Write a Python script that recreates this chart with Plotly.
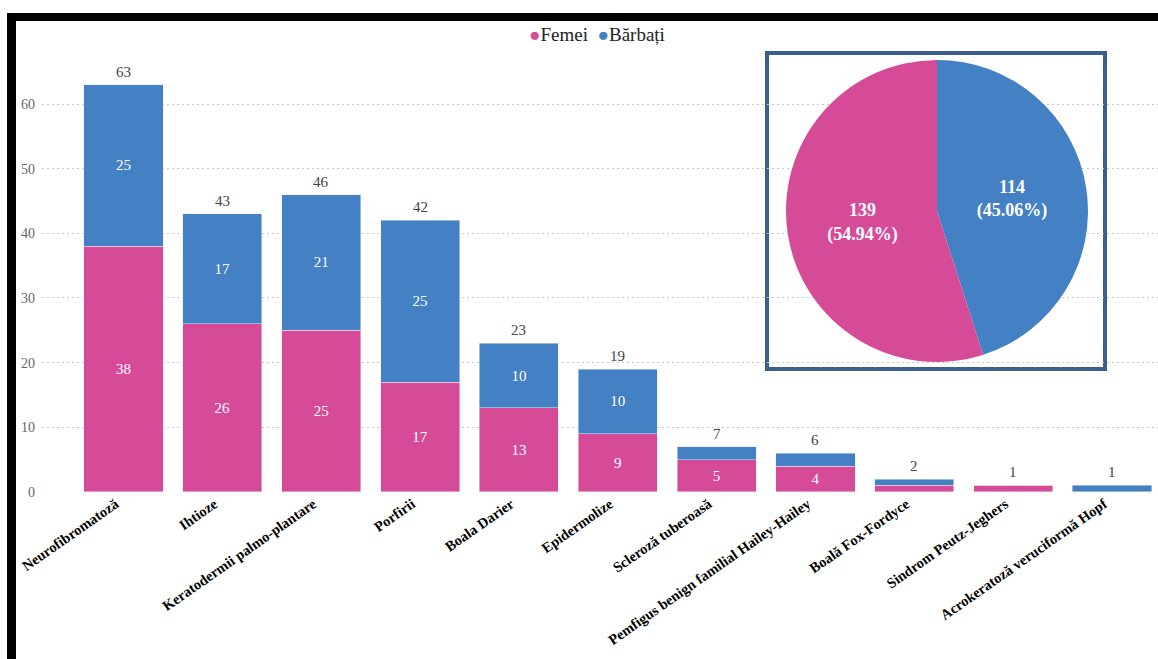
import plotly.graph_objects as go

# ---- data ----
categories = [
    "Neurofibromatoză", "Ihtioze", "Keratodermii palmo-plantare", "Porfirii",
    "Boala Darier", "Epidermolize", "Scleroză tuberoasă",
    "Pemfigus benign familial Hailey-Hailey", "Boală Fox-Fordyce",
    "Sindrom Peutz-Jeghers", "Acrokeratoză veruciformă Hopf",
]
femei = [38, 26, 25, 17, 13, 9, 5, 4, 1, 1, 0]
barbati = [25, 17, 21, 25, 10, 10, 2, 2, 1, 0, 1]
totals = [f + b for f, b in zip(femei, barbati)]

pie_labels = ["Bărbați", "Femei"]
pie_values = [sum(barbati), sum(femei)]

y_ticks = [0, 10, 20, 30, 40, 50, 60]

# ---- style ----
PINK = "#D64B98"
BLUE = "#4480C4"
FRAME = "#3B5E8C"
SERIF = "Liberation Serif"

W, H = 1158, 659
ML, MR, MT, MB = 42, 0, 40, 167
PW, PH = W - ML - MR, H - MT - MB


def px_x(x):
    return (x - ML) / PW


def px_y(y):
    return (H - MB - y) / PH


def inside_text(vals, minimum=4):
    return [str(v) if v >= minimum else "" for v in vals]


fig = go.Figure()

fig.add_trace(go.Bar(
    x=categories, y=femei, name="Femei", marker_color=PINK,
    text=inside_text(femei), textposition="inside", insidetextanchor="middle",
    textfont=dict(family=SERIF, size=15, color="white"),
    constraintext="none", showlegend=False,
))
fig.add_trace(go.Bar(
    x=categories, y=barbati, name="Bărbați", marker_color=BLUE,
    text=inside_text(barbati), textposition="inside", insidetextanchor="middle",
    textfont=dict(family=SERIF, size=15, color="white"),
    constraintext="none", showlegend=False,
))

# inset pie
fig.add_trace(go.Pie(
    labels=pie_labels, values=pie_values,
    marker=dict(colors=[BLUE, PINK], line=dict(width=0)),
    sort=False, direction="clockwise", rotation=0,
    texttemplate="%{value}<br>(%{percent:.2%})",
    textposition="inside", insidetextorientation="horizontal",
    textfont=dict(family=SERIF, size=18, color="white", weight="bold"),
    domain=dict(x=[px_x(784), px_x(1090)], y=[px_y(362), px_y(60)]),
    showlegend=False, hoverinfo="label+value+percent",
))

# totals above each stack
annotations = [
    dict(x=c, y=t, xref="x", yref="y", text=str(t), showarrow=False,
         yanchor="bottom", yshift=3,
         font=dict(family=SERIF, size=15, color="#444444"))
    for c, t in zip(categories, totals)
]

# legend line with round markers
dot = "<span style='color:{}'>●</span>"
annotations.append(dict(
    x=px_x(597), y=px_y(34), xref="paper", yref="paper",
    xanchor="center", yanchor="middle", showarrow=False,
    text=dot.format(PINK) + "Femei\u2002" + dot.format(BLUE) + "Bărbați",
    font=dict(family=SERIF, size=19, color="#222222"),
))

shapes = [
    # inset frame
    dict(type="rect", xref="paper", yref="paper", layer="between",
         x0=px_x(767), x1=px_x(1105), y0=px_y(369), y1=px_y(53),
         fillcolor="white", line=dict(color=FRAME, width=4)),
    # outer black border (top and left)
    dict(type="rect", xref="paper", yref="paper", layer="above",
         x0=px_x(7), x1=px_x(W), y0=px_y(21), y1=px_y(13),
         fillcolor="black", line=dict(width=0)),
    dict(type="rect", xref="paper", yref="paper", layer="above",
         x0=px_x(7), x1=px_x(16), y0=px_y(H), y1=px_y(13),
         fillcolor="black", line=dict(width=0)),
]

fig.update_layout(
    width=W, height=H,
    margin=dict(l=ML, r=MR, t=MT, b=MB, pad=0),
    paper_bgcolor="white", plot_bgcolor="white",
    barmode="stack", bargap=0.2,
    shapes=shapes, annotations=annotations,
    showlegend=False,
    xaxis=dict(
        type="category", range=[-0.8245, 10.465],
        tickangle=-35, showgrid=False, zeroline=False, showline=False,
        ticks="", ticklabelshift=-8,
        tickfont=dict(family=SERIF, size=14.5, color="black", weight="bold"),
    ),
    yaxis=dict(
        range=[-0.01, 69.9], tickvals=y_ticks,
        showgrid=True, gridcolor="#C8C8C8", griddash="2px,3px", gridwidth=1,
        zeroline=False, showline=False, ticks="", ticklabelstandoff=6,
        tickfont=dict(family=SERIF, size=14, color="#666666"),
    ),
)

fig.write_html("out.html")
